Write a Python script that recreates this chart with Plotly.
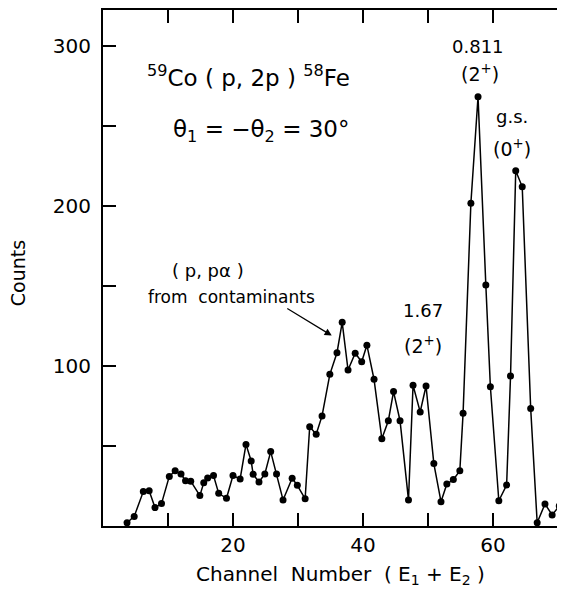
import plotly.graph_objects as go

channels = [3.7, 4.8, 6.2, 7.1, 8.0, 9.0, 10.2, 11.1, 12.0, 12.7, 13.5, 14.9, 15.5, 16.1, 17.0,
            17.8, 19.0, 20.0, 21.1, 22.0, 22.8, 23.1, 24.0, 24.9, 25.8, 26.7, 27.7, 29.1, 29.9,
            31.1, 31.8, 32.8, 33.7, 34.9, 36.0, 36.8, 37.7, 38.8, 39.8, 40.6, 41.7, 42.9, 43.9,
            44.7, 45.7, 47.0, 47.7, 48.8, 49.7, 50.9, 52.0, 52.9, 53.9, 54.9, 55.4, 56.6, 57.7,
            58.9, 59.6, 60.9, 62.1, 62.7, 63.5, 64.5, 65.8, 66.8, 68.0, 69.1, 70.2]
counts = [2, 6, 21.5, 22, 11.5, 14, 31, 34.5, 32.5, 28.3, 28, 19, 27, 30, 31.5,
          20.4, 17.3, 31.5, 29.4, 51, 40.6, 32.3, 27.5, 32.5, 46.5, 32.5, 16.3, 29.8, 25.4,
          17, 62, 57.3, 68.8, 94.8, 108.3, 127.3, 97.5, 108, 102.7, 113, 91.7, 54.6, 65.8,
          84, 65.8, 16.3, 88, 71.3, 87.5, 39, 15.2, 26.3, 29, 34.5, 70.4, 201.7, 268.3,
          150.6, 87, 15.8, 25.6, 93.8, 222, 212, 73.5, 2, 13.8, 6.9, 12.5]

x_tickvals = [10, 20, 30, 40, 50, 60, 70]
x_ticktext = ["", "20", "", "40", "", "60", ""]
y_tickvals = [50, 100, 150, 200, 250, 300]
y_ticktext = ["", "100", "", "200", "", "300"]

FONT = "DejaVu Sans"
Y_RANGE = [0, 322.5]

fig = go.Figure()
fig.add_trace(go.Scatter(
    x=channels, y=counts, mode="lines+markers",
    line=dict(color="black", width=1.5),
    marker=dict(color="black", size=7),
    showlegend=False, cliponaxis=True,
))

tick_common = dict(
    ticks="inside", ticklen=13, tickwidth=1.5, tickcolor="black",
    showgrid=False, zeroline=False,
    tickfont=dict(family=FONT, size=20, color="black"),
)

fig.update_xaxes(range=[0, 71.08], tickmode="array", tickvals=x_tickvals,
                 ticktext=x_ticktext, showline=True, linecolor="black", linewidth=2,
                 mirror="ticks", **tick_common)
fig.update_yaxes(range=Y_RANGE, tickmode="array", tickvals=y_tickvals,
                 ticktext=y_ticktext, ticklabelstandoff=6, showline=True,
                 linecolor="black", linewidth=2, mirror=False, **tick_common)

ann = []
def txt(x, y, s, size=18, xanchor="center", **kw):
    ann.append(dict(x=x, y=y, text=s, showarrow=False, xanchor=xanchor, yanchor="middle",
                    font=dict(family=FONT, size=size, color="black"), **kw))

txt(6.4, 281, "<sup>59</sup>Co ( p, 2p ) <sup>58</sup>Fe", size=23, xanchor="left")
txt(10.5, 247, "θ<sub>1</sub> = −θ<sub>2</sub> = 30°", size=23, xanchor="left")
txt(57.7, 300, "0.811", size=18)
txt(58.0, 283, "(2<sup>+</sup>)", size=19)
txt(62.9, 256, "g.s.", size=18)
txt(62.9, 236, "(0<sup>+</sup>)", size=19)
txt(49.2, 135, "1.67", size=18)
txt(49.2, 113, "(2<sup>+</sup>)", size=19)
txt(16.2, 160, "( p, pα )", size=18)
txt(19.7, 143, "from  contaminants", size=17)

ann.append(dict(x=35.2, y=119, ax=-46, ay=-28, text="", showarrow=True,
                arrowhead=2, arrowsize=1.2, arrowwidth=1.2, arrowcolor="black"))

ann.append(dict(x=0.513, y=-0.095, xref="paper", yref="paper", xanchor="center",
                yanchor="middle",
                text="Channel  Number  ( E<sub>1</sub> + E<sub>2</sub> )", showarrow=False,
                font=dict(family=FONT, size=20, color="black")))
ann.append(dict(x=-0.184, y=0.49, xref="paper", yref="paper", xanchor="center",
                yanchor="middle", text="Counts",
                textangle=-90, showarrow=False,
                font=dict(family=FONT, size=19, color="black")))

fig.update_layout(
    width=557, height=583,
    margin=dict(l=95, r=0, t=2, b=65),
    paper_bgcolor="white", plot_bgcolor="white",
    annotations=ann,
    yaxis2=dict(overlaying="y", side="right", range=Y_RANGE, tickmode="array",
                tickvals=y_tickvals, showticklabels=False, showline=False,
                ticks="inside", ticklen=13, tickwidth=1.5, tickcolor="black",
                showgrid=False, zeroline=False),
)

fig.write_html("out.html")
